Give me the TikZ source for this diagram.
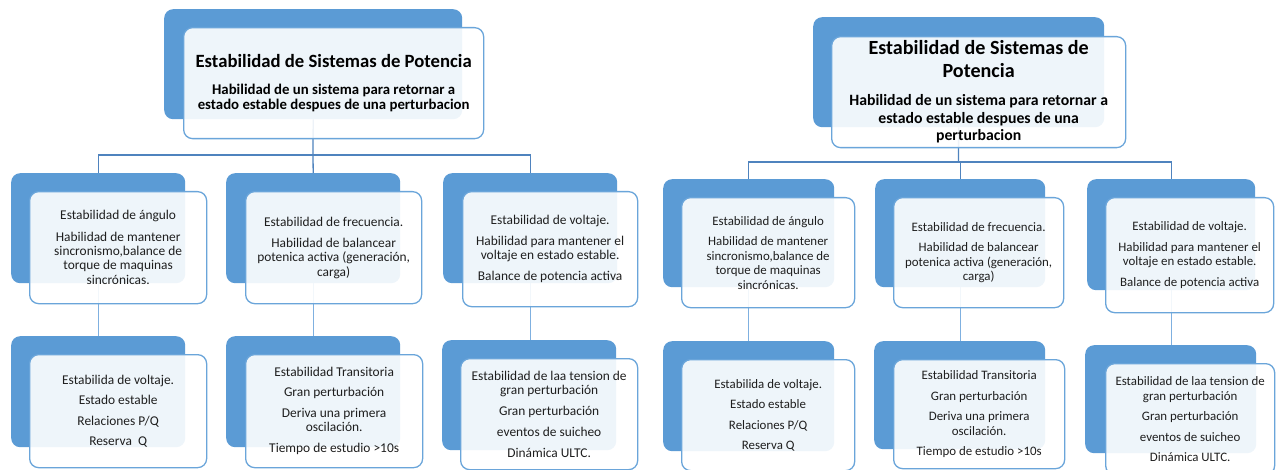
\documentclass[tikz,border=0pt]{standalone}
\usepackage{fontspec}
\setmainfont{Carlito}
\definecolor{backblue}{HTML}{5B9BD5}
\definecolor{frontline}{HTML}{6AA5DA}
\definecolor{connA}{HTML}{4F83BE}
\definecolor{connB}{HTML}{7FB0E0}
\definecolor{txt}{HTML}{1E1E1E}
\newcommand{\ttlL}{\fontsize{18.7}{15}\selectfont\bfseries}
\newcommand{\subL}{\fontsize{14.8}{15}\selectfont\bfseries}
\newcommand{\ttlR}{\fontsize{20.1}{17.5}\selectfont\bfseries}
\newcommand{\subR}{\fontsize{15.75}{17.5}\selectfont\bfseries}
\begin{document}
\begin{tikzpicture}[x=1pt,y=-1pt,
  backbox/.style={fill=backblue, rounded corners=9pt, inner sep=0pt, anchor=north west},
  frontbox/.style={fill=white, fill opacity=0.9, text opacity=1, draw=frontline, draw opacity=1,
    line width=1.3pt, rounded corners=9pt, inner sep=0pt, anchor=north west, align=center, text=txt},
  smalltxt/.style={font=\fontsize{13.4}{14.5}\selectfont},
  smalltxtR/.style={font=\fontsize{12.9}{14.5}\selectfont},
  hconn/.style={draw=connA, line width=1.3pt},
  vconn/.style={draw=connB, line width=1.3pt}]
\fill[white] (0,0) rectangle (1281,470);
\useasboundingbox (0,0) rectangle (1281,470);

% ---------------- left diagram: back boxes
\node[backbox, minimum width=298pt, minimum height=110pt] (T1b) at (164,9) {};
\node[backbox, minimum width=174pt, minimum height=110pt] (A1b) at (11,173) {};
\node[backbox, minimum width=174pt, minimum height=110pt] (B1b) at (226,173) {};
\node[backbox, minimum width=174pt, minimum height=110pt] (C1b) at (443,173) {};
\node[backbox, minimum width=174pt, minimum height=111pt] (D1b) at (11,336) {};
\node[backbox, minimum width=174pt, minimum height=111pt] (E1b) at (226,336) {};
\node[backbox, minimum width=174pt, minimum height=110pt] (F1b) at (442,340) {};

% connectors left
\coordinate (j1) at (313,155);
\draw[hconn] (T1b.south) -- (j1) -- (B1b.north);
\draw[hconn] (A1b.north) |- (j1) -| (C1b.north);
\draw[vconn] (A1b.south) -- (D1b.north);
\draw[vconn] (B1b.south) -- (E1b.north);
\draw[vconn] (C1b.south) -- (C1b.south |- F1b.north);

% front boxes left
\node[frontbox, minimum width=300pt, minimum height=111pt, text=black, font=\subL] (T1f) at (183,27)
  {\ttlL Estabilidad de Sistemas de Potencia\\[12pt]
   \subL Habilidad de un sistema para retornar a\\\subL estado estable despues de una perturbacion};
\node[frontbox, smalltxt, minimum width=177pt, minimum height=112pt] (A1f) at (29,191)
  {Estabilidad de ángulo\\[6.5pt]Habilidad de mantener\\sincronismo,balance de\\torque de maquinas\\sincrónicas.};
\node[frontbox, smalltxt, minimum width=176pt, minimum height=112pt] (B1f) at (245,191)
  {Estabilidad de frecuencia.\\[6.5pt]Habilidad de balancear\\potenica activa (generación,\\carga)};
\node[frontbox, smalltxt, minimum width=175pt, minimum height=115pt] (C1f) at (462,191)
  {Estabilidad de voltaje.\\[6.5pt]Habilidad para mantener el\\voltaje en estado estable.\\[6.5pt]Balance de potencia activa};
\node[frontbox, smalltxt, minimum width=177pt, minimum height=113pt] (D1f) at (29,354)
  {Estabilida de voltaje.\\[6pt]Estado estable\\[6pt]Relaciones P/Q\\[6pt]Reserva~~Q};
\node[frontbox, smalltxt, minimum width=177pt, minimum height=113pt] (E1f) at (245,354)
  {Estabilidad Transitoria\\[6pt]Gran perturbación\\[6pt]Deriva una primera\\oscilación.\\[6.5pt]Tiempo de estudio >10s};
\node[frontbox, smalltxt, minimum width=177pt, minimum height=111pt] (F1f) at (460,358)
  {Estabilidad de laa tension de\\gran perturbación\\[6.5pt]Gran perturbación\\[6.5pt]eventos de suicheo\\[6.5pt]Dinámica ULTC.};

% ---------------- right diagram: back boxes
\node[backbox, minimum width=291pt, minimum height=110pt] (T2b) at (813,17) {};
\node[backbox, minimum width=171pt, minimum height=108pt] (A2b) at (663,179) {};
\node[backbox, minimum width=170pt, minimum height=108pt] (B2b) at (875,179) {};
\node[backbox, minimum width=168pt, minimum height=111pt] (C2b) at (1087,179) {};
\node[backbox, minimum width=171pt, minimum height=110pt] (D2b) at (663,341) {};
\node[backbox, minimum width=171pt, minimum height=108pt] (E2b) at (874,341) {};
\node[backbox, minimum width=171pt, minimum height=108pt] (F2b) at (1085,345) {};

% connectors right
\coordinate (j2) at (958.5,162);
\draw[hconn] (T2b.south) -- (j2);
\draw[hconn] (A2b.north) |- (j2) -| (C2b.north);
\draw[hconn] (B2b.north) -- (B2b.north |- j2);
\draw[vconn] (A2b.south) -- (A2b.south |- D2b.north);
\draw[vconn] (B2b.south) -- (B2b.south |- E2b.north);
\draw[vconn] (C2b.south) -- (C2b.south |- F2b.north);

% front boxes right
\node[frontbox, minimum width=294pt, minimum height=111pt, text=black, font=\subR] (T2f) at (831,36)
  {\ttlR Estabilidad de Sistemas de\\[5.5pt]\ttlR Potencia\\[10.5pt]
   \subR Habilidad de un sistema para retornar a\\\subR estado estable despues de una\\\subR perturbacion};
\node[frontbox, smalltxtR, minimum width=173pt, minimum height=110pt] (A2f) at (681,197)
  {Estabilidad de ángulo\\[6pt]Habilidad de mantener\\sincronismo,balance de\\torque de maquinas\\sincrónicas.};
\node[frontbox, smalltxtR, minimum width=170pt, minimum height=110pt] (B2f) at (893,197)
  {Estabilidad de frecuencia.\\[6pt]Habilidad de balancear\\potenica activa (generación,\\carga)};
\node[frontbox, smalltxtR, minimum width=168pt, minimum height=115pt] (C2f) at (1105,197)
  {Estabilidad de voltaje.\\[6pt]Habilidad para mantener el\\voltaje en estado estable.\\[6pt]Balance de potencia activa};
\node[frontbox, smalltxtR, minimum width=173pt, minimum height=111pt] (D2f) at (681,359)
  {Estabilida de voltaje.\\[6pt]Estado estable\\[6pt]Relaciones P/Q\\[6pt]Reserva Q};
\node[frontbox, smalltxtR, minimum width=171pt, minimum height=109pt] (E2f) at (893,359)
  {Estabilidad Transitoria\\[6pt]Gran perturbación\\[6pt]Deriva una primera\\oscilación.\\[6pt]Tiempo de estudio >10s};
\node[frontbox, smalltxtR, minimum width=169pt, minimum height=111pt] (F2f) at (1105,363)
  {Estabilidad de laa tension de\\gran perturbación\\[6pt]Gran perturbación\\[6pt]eventos de suicheo\\[6pt]Dinámica ULTC.};
\end{tikzpicture}
\end{document}
